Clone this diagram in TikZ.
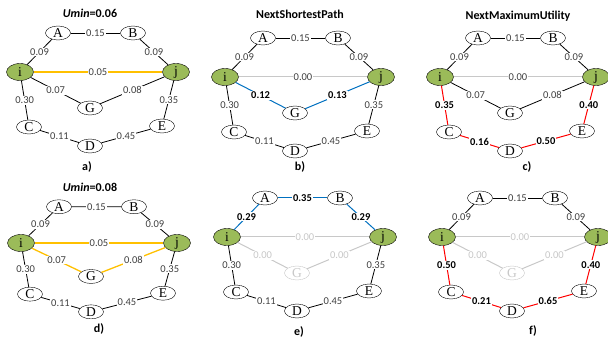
\documentclass[tikz,border=0pt]{standalone}
\usepackage{fontspec}
\setmainfont{Liberation Serif}
\newfontfamily\lblfont{Carlito}
\usetikzlibrary{shapes.geometric}

\definecolor{nodegreen}{HTML}{9BBB59}
\definecolor{uminyellow}{HTML}{FFC000}
\definecolor{shortblue}{HTML}{0070C0}
\definecolor{maxred}{HTML}{FF0000}
\definecolor{faded}{HTML}{C8C8C8}
\definecolor{lbl}{HTML}{404040}

\tikzset{
  vertex/.style={draw, ellipse, fill=white, minimum width=25pt, minimum height=14pt,
    inner sep=0pt, font=\fontsize{13.5}{13.5}\selectfont},
  endpoint/.style={vertex, fill=nodegreen, minimum width=27pt, minimum height=17pt},
  gone/.style={vertex, draw=faded, text=faded},
  wt/.style={fill=white, inner sep=1pt, text=lbl, font=\lblfont\fontsize{10.5}{10.5}\selectfont},
  hot/.style={wt, text=black, font=\lblfont\bfseries\fontsize{10.5}{10.5}\selectfont},
  fadewt/.style={wt, text=faded},
  caption/.style={font=\lblfont\bfseries\fontsize{12}{12}\selectfont},
  edge/.style={draw, line width=0.8pt},
  yellowedge/.style={draw=uminyellow, line width=1.3pt},
  blueedge/.style={draw=shortblue, line width=1pt},
  rededge/.style={draw=maxred, line width=1pt},
  fadeedge/.style={draw=faded, line width=1pt}
}

% the eight nodes of one panel, i at the origin
\newcommand\placegraph[2]{%
  \node[endpoint] (#1i) at (0,0) {i};
  \node[vertex] (#1A) at (38,-39) {A};
  \node[vertex] (#1B) at (113,-39) {B};
  \node[endpoint] (#1j) at (156,0) {j};
  \node[#2] (#1G) at (70,36) {G};
  \node[vertex] (#1C) at (9,55) {C};
  \node[vertex] (#1D) at (70,74) {D};
  \node[vertex] (#1E) at (142,54) {E};
}

\begin{document}
\begin{tikzpicture}[x=1pt, y=-1pt]
  \useasboundingbox (0,0) rectangle (608,339);

  % a) Umin=0.06
  \node[caption] (atitle) at (90,13) {{\itshape Umin}=0.06};
  \node[caption] (atag) at (87,167) {a)};
  \begin{scope}[shift={(20,72)}]
    \placegraph{a}{vertex}
    \draw[edge] (ai) -- node[wt]{0.09} (aA);
    \draw[edge] (aA) -- node[wt]{0.15} (aB);
    \draw[edge] (aB) -- node[wt]{0.09} (aj);
    \draw[yellowedge] (ai) -- node[wt]{0.05} (aj);
    \draw[edge] (ai) -- node[wt]{0.07} (aG);
    \draw[edge] (aG) -- node[wt]{0.08} (aj);
    \draw[edge] (ai) -- node[wt]{0.30} (aC);
    \draw[edge] (aC) -- node[wt]{0.11} (aD);
    \draw[edge] (aD) -- node[wt]{0.45} (aE);
    \draw[edge] (aE) -- node[wt]{0.35} (aj);
  \end{scope}

  % b) NextShortestPath
  \node[caption] (btitle) at (300,14) {NextShortestPath};
  \node[caption] (btag) at (300,167) {b)};
  \begin{scope}[shift={(225,77)}]
    \placegraph{b}{vertex}
    \draw[edge] (bi) -- node[wt]{0.09} (bA);
    \draw[edge] (bA) -- node[wt]{0.15} (bB);
    \draw[edge] (bB) -- node[wt]{0.09} (bj);
    \draw[fadeedge] (bi) -- node[wt]{0.00} (bj);
    \draw[blueedge] (bi) -- node[hot]{0.12} (bG);
    \draw[blueedge] (bG) -- node[hot]{0.13} (bj);
    \draw[edge] (bi) -- node[wt]{0.30} (bC);
    \draw[edge] (bC) -- node[wt]{0.11} (bD);
    \draw[edge] (bD) -- node[wt]{0.45} (bE);
    \draw[edge] (bE) -- node[wt]{0.35} (bj);
  \end{scope}

  % c) NextMaximumUtility
  \node[caption] (ctitle) at (518,16) {NextMaximumUtility};
  \node[caption] (ctag) at (527,167) {c)};
  \begin{scope}[shift={(440,77)}]
    \placegraph{c}{vertex}
    \draw[edge] (ci) -- node[wt]{0.09} (cA);
    \draw[edge] (cA) -- node[wt]{0.15} (cB);
    \draw[edge] (cB) -- node[wt]{0.09} (cj);
    \draw[fadeedge] (ci) -- node[wt]{0.00} (cj);
    \draw[edge] (ci) -- node[wt]{0.07} (cG);
    \draw[edge] (cG) -- node[wt]{0.08} (cj);
    \draw[rededge] (ci) -- node[hot]{0.35} (cC);
    \draw[rededge] (cC) -- node[hot]{0.16} (cD);
    \draw[rededge] (cD) -- node[hot]{0.50} (cE);
    \draw[rededge] (cE) -- node[hot]{0.40} (cj);
  \end{scope}

  % d) Umin=0.08
  \node[caption] (dtitle) at (90,187) {{\itshape Umin}=0.08};
  \node[caption] (dtag) at (99,329) {d)};
  \begin{scope}[shift={(21,243)}, yscale=0.93]
    \placegraph{d}{vertex}
    \draw[edge] (di) -- node[wt]{0.09} (dA);
    \draw[edge] (dA) -- node[wt]{0.15} (dB);
    \draw[edge] (dB) -- node[wt]{0.09} (dj);
    \draw[yellowedge] (di) -- node[wt]{0.05} (dj);
    \draw[yellowedge] (di) -- node[wt]{0.07} (dG);
    \draw[yellowedge] (dG) -- node[wt]{0.08} (dj);
    \draw[edge] (di) -- node[wt]{0.30} (dC);
    \draw[edge] (dC) -- node[wt]{0.11} (dD);
    \draw[edge] (dD) -- node[wt]{0.45} (dE);
    \draw[edge] (dE) -- node[wt]{0.35} (dj);
  \end{scope}

  % e)
  \node[caption] (etag) at (299,332) {e)};
  \begin{scope}[shift={(227,237)}]
    \placegraph{e}{gone}
    \draw[blueedge] (ei) -- node[hot]{0.29} (eA);
    \draw[blueedge] (eA) -- node[hot]{0.35} (eB);
    \draw[blueedge] (eB) -- node[hot]{0.29} (ej);
    \draw[fadeedge] (ei) -- node[fadewt]{0.00} (ej);
    \draw[fadeedge] (ei) -- node[fadewt]{0.00} (eG);
    \draw[fadeedge] (eG) -- node[fadewt]{0.00} (ej);
    \draw[edge] (ei) -- node[wt]{0.30} (eC);
    \draw[edge] (eC) -- node[wt]{0.11} (eD);
    \draw[edge] (eD) -- node[wt]{0.45} (eE);
    \draw[edge] (eE) -- node[wt]{0.35} (ej);
  \end{scope}

  % f)
  \node[caption] (ftag) at (533,331) {f)};
  \begin{scope}[shift={(442,237)}]
    \placegraph{f}{gone}
    \draw[edge] (fi) -- node[wt]{0.09} (fA);
    \draw[edge] (fA) -- node[wt]{0.15} (fB);
    \draw[edge] (fB) -- node[wt]{0.09} (fj);
    \draw[fadeedge] (fi) -- node[fadewt]{0.00} (fj);
    \draw[fadeedge] (fi) -- node[fadewt]{0.00} (fG);
    \draw[fadeedge] (fG) -- node[fadewt]{0.00} (fj);
    \draw[rededge] (fi) -- node[hot]{0.50} (fC);
    \draw[rededge] (fC) -- node[hot]{0.21} (fD);
    \draw[rededge] (fD) -- node[hot]{0.65} (fE);
    \draw[rededge] (fE) -- node[hot]{0.40} (fj);
  \end{scope}
\end{tikzpicture}
\end{document}
